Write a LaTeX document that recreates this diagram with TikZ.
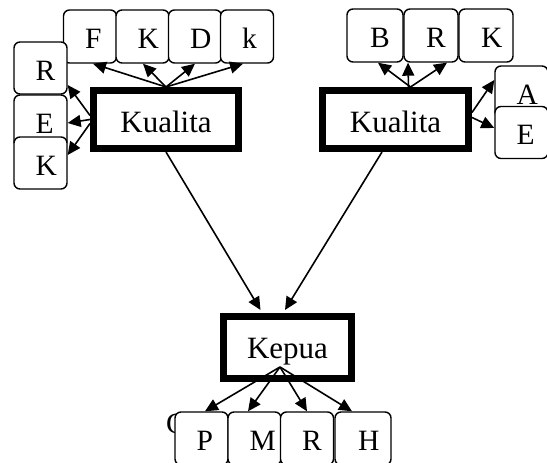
\documentclass[tikz,border=0pt]{standalone}
\usepackage{fontspec}
\setmainfont{Liberation Serif}
\usetikzlibrary{arrows.meta}
\begin{document}
\begin{tikzpicture}[x=1pt,y=1pt,
  mainbox/.style={draw, line width=7pt, inner sep=0pt, fill=white,
    font=\fontsize{31}{31}\selectfont, text depth=0pt},
  leaf/.style={draw, line width=1.4pt, rounded corners=6pt, fill=white,
    font=\fontsize{29.5}{29.5}\selectfont, text width=10pt, align=left,
    inner xsep=21.5pt, inner ysep=0pt, text height=29pt, text depth=4pt,
    minimum height=52pt},
  arr/.style={line width=1.6pt, -{Triangle[length=13pt,width=12pt]}}]
\useasboundingbox (0,0) rectangle (547,463);
\clip (0,0) rectangle (547,463);
% left group leaves
\node[leaf, minimum width=51pt, minimum height=53pt] (lf) at (90,426.5) {F};
\node[leaf, minimum width=51pt, minimum height=53pt] (lk) at (142.5,426.5) {K};
\node[leaf, minimum width=50pt, minimum height=53pt] (ld) at (195,426.5) {D};
\node[leaf, minimum width=50pt, minimum height=53pt] (lk2) at (247,426.5) {k};
\node[leaf, minimum width=53pt] (lr) at (40.5,395) {R};
\node[leaf, minimum width=53pt] (le) at (40.5,342) {E};
\node[leaf, minimum width=53pt] (lkk) at (40.5,300) {K};
% right group leaves
\node[leaf, minimum width=56pt, minimum height=53pt] (rb) at (375,427.5) {B};
\node[leaf, minimum width=54pt, minimum height=53pt] (rr) at (431,427.5) {R};
\node[leaf, minimum width=54pt, minimum height=53pt] (rk) at (486,427.5) {K};
\node[leaf, minimum width=53pt] (ra) at (521.5,371) {A};
\node[leaf, minimum width=53pt] (re) at (521.5,330.5) {E};
% bottom leaves
\node[font=\fontsize{29.5}{29.5}\selectfont, anchor=base west, inner sep=0pt] (c) at (166,29) {C};
\node[leaf, minimum width=53pt, minimum height=53pt] (bp) at (201.5,24.5) {P};
\node[leaf, minimum width=51pt, minimum height=53pt] (bm) at (254.5,24.5) {M};
\node[leaf, minimum width=52pt, minimum height=53pt] (br) at (307,24.5) {R};
\node[leaf, minimum width=56pt, minimum height=53pt] (bh) at (363,24.5) {H};
% main boxes
\node[mainbox, minimum width=145pt, minimum height=58pt, text height=26pt] (kl) at (166,343.5) {Kualita};
\node[mainbox, minimum width=146pt, minimum height=58pt, text height=26pt] (kr) at (395.5,343.5) {Kualita};
\node[mainbox, minimum width=128pt, minimum height=62pt, text height=23pt] (kp) at (287.5,115.5) {Kepua};
% connectors left group
\draw[arr] (kl.north) -- ([xshift=3pt]lf.south);
\draw[arr] (kl.north) -- ([xshift=0.5pt]lk.south);
\draw[arr] (kl.north) -- (ld.south);
\draw[arr] (kl.north) -- ([xshift=-4pt]lk2.south);
\draw[arr] ([yshift=4pt]kl.west) -- ([yshift=-17pt]lr.east);
\draw[arr] (kl.west) -- ([yshift=-2pt]le.east);
\draw[arr] ([yshift=-4pt]kl.west) -- ([yshift=8pt]lkk.east);
% connectors right group
\draw[arr] ([xshift=15pt]kr.north) -- ([xshift=3pt]rb.south);
\draw[arr] ([xshift=13pt]kr.north) -- ([xshift=-23pt]rr.south);
\draw[arr] ([xshift=15pt]kr.north) -- ([xshift=-39pt]rk.south);
\draw[arr] ([yshift=7pt]kr.east) -- ([yshift=12pt]ra.west);
\draw[arr] ([yshift=2pt]kr.east) -- ([yshift=4.5pt]re.west);
% to Kepua
\draw[arr] (kl.south) -- ([xshift=-27pt,yshift=3pt]kp.north);
\draw[arr] ([xshift=-13.5pt]kr.south) -- ([xshift=-2.5pt,yshift=3pt]kp.north);
% from Kepua
\coordinate (kpo) at ([shift={(-7.5pt,-19.5pt)}]kp.center);
\draw[arr] (kpo) -- ([xshift=3.5pt]bp.north);
\draw[arr] (kpo) -- ([xshift=-6.5pt]bm.north);
\draw[arr] (kpo) -- (br.north);
\draw[arr] (kpo) -- ([xshift=-11pt]bh.north);
\end{tikzpicture}
\end{document}
